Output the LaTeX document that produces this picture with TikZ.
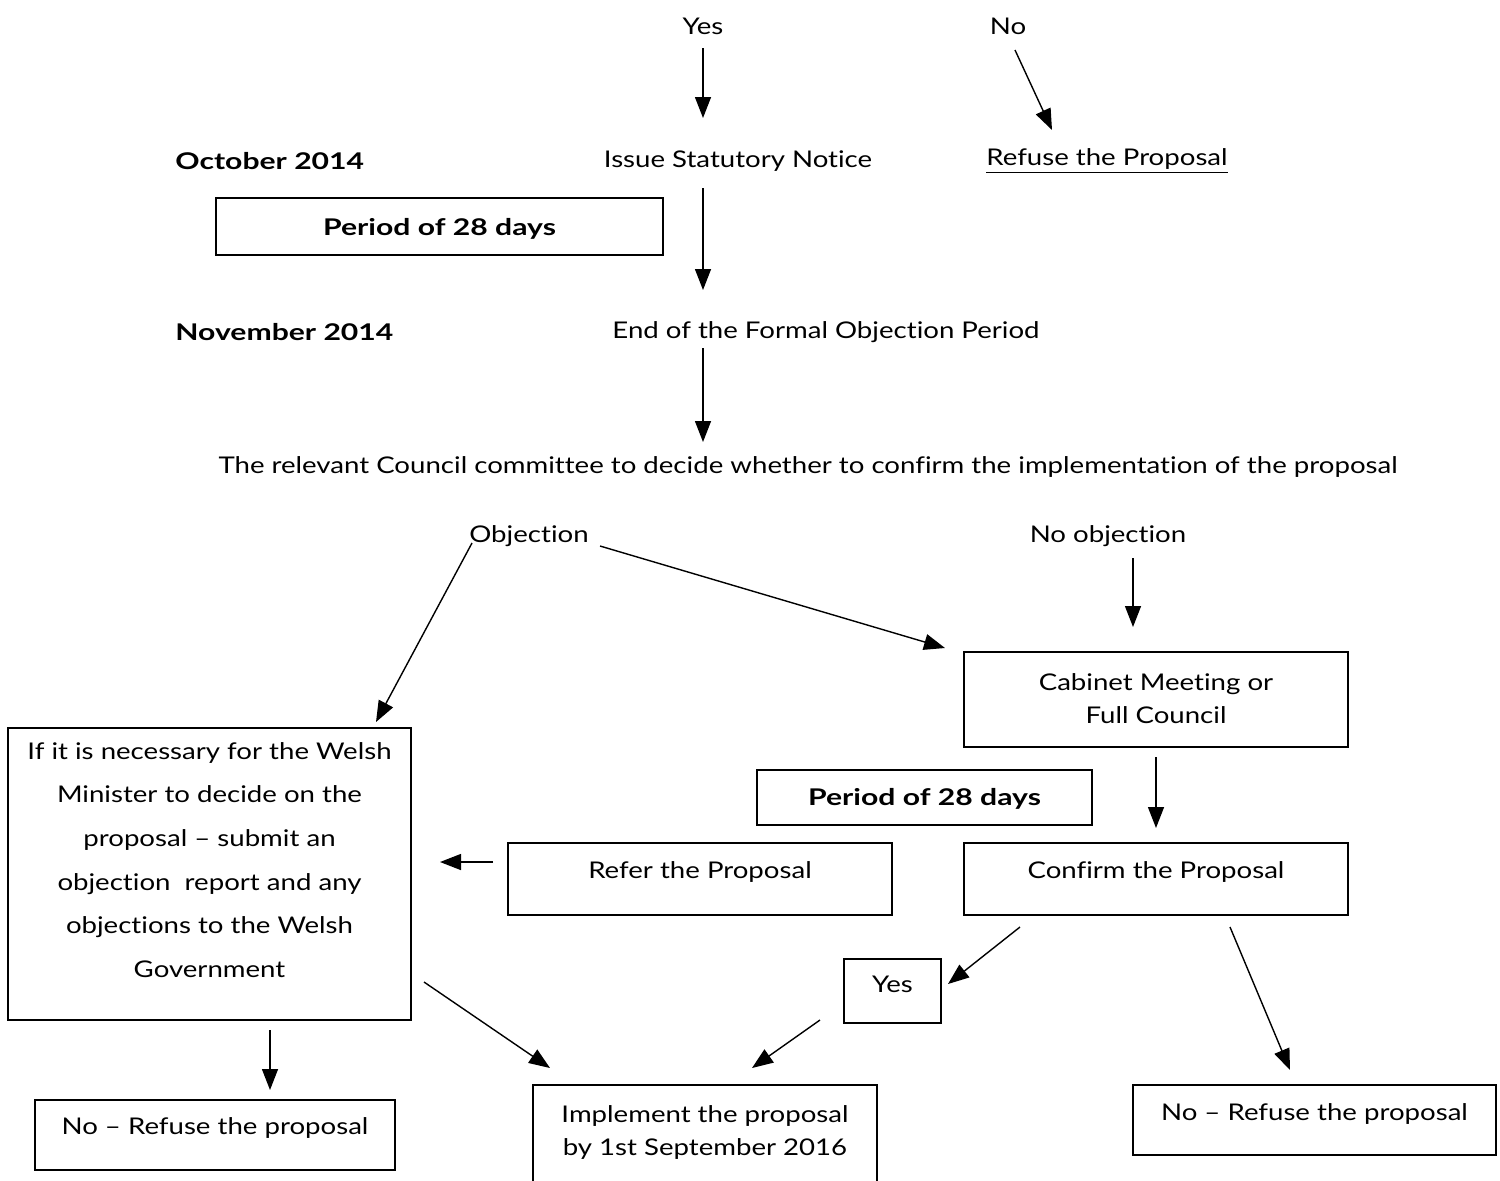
\documentclass[tikz,border=0pt]{standalone}
\usepackage{fontspec}
\setmainfont{Lato}[FakeStretch=1.2, Ligatures={TeX,NoCommon}]
\newfontfamily\bfam{Lato Bold}[FakeStretch=1.31, Ligatures={TeX,NoCommon}]
\usetikzlibrary{arrows.meta}
\begin{document}
\begin{tikzpicture}[x=0.5pt,y=-0.5pt,
  txt/.style={inner sep=0pt, font=\fontsize{11.5}{16.5}\selectfont, align=center},
  btxt/.style={inner sep=0pt, font=\fontsize{11.5}{16.5}\bfam\selectfont, align=center},
  wtxt/.style={inner sep=0pt, font=\fontsize{11.5}{21.8}\selectfont, align=center},
  bx/.style={draw, line width=0.9pt, inner sep=0pt},
  arr/.style={line width=0.7pt, -{Triangle[length=10.5pt,width=8pt]}}]
\useasboundingbox (0,0) rectangle (1500,1180);
\begin{scope}
\clip (0,0) rectangle (1500,1180);
% top part
\node[txt] (yes) at (703,26) {Yes};
\node[txt] (no) at (1008,26) {No};
\node[btxt, anchor=west] (oct) at (175,161) {October 2014};
\node[txt] (issue) at (738,161) {Issue Statutory Notice};
\node[txt] (refuse) at (1107,161) {\underline{Refuse the Proposal}};
\node[bx, minimum width=223.5pt, minimum height=28.5pt] (per1) at (439.5,226.5) {};
\node[btxt] at (439.5,229) {Period of 28 days};
\node[btxt, anchor=west] (nov) at (175,332) {November 2014};
\node[txt] (endp) at (826,332) {End of the Formal Objection Period};
\node[txt] (rel) at (808,467) {The relevant Council committee to decide whether to confirm the implementation of the proposal};
\node[txt] (obj) at (529,536) {Objection};
\node[txt] (noobj) at (1108,536) {No objection};
% boxes
\node[bx, minimum width=192pt, minimum height=47.5pt] (cab) at (1156,699.5) {};
\node[txt] at (1156,699) {Cabinet Meeting or\\Full Council};
\node[bx, minimum width=167.5pt, minimum height=27.5pt] (per2) at (924.5,797.5) {};
\node[btxt] at (924.5,799) {Period of 28 days};
\node[bx, minimum width=192pt, minimum height=36pt] (conf) at (1156,879) {};
\node[txt] at (1156,872) {Confirm the Proposal};
\node[bx, minimum width=192pt, minimum height=36pt] (refer) at (700,879) {};
\node[txt] at (700,872) {Refer the Proposal};
\node[bx, minimum width=201.5pt, minimum height=146pt] (welsh) at (209.5,874) {};
\node[wtxt] at (209.5,860) {If it is necessary for the Welsh\\Minister to decide on the\\proposal \textendash{} submit an\\objection\ \ report and any\\objections to the Welsh\\Government};
\node[bx, minimum width=48.5pt, minimum height=32pt] (yes2) at (892.5,991) {};
\node[txt] at (892.5,984) {Yes};
\node[bx, minimum width=172pt, minimum height=52.5pt] (impl) at (705,1137.5) {};
\node[txt] at (705,1132) {Implement the proposal\\by 1st September 2016};
\node[bx, minimum width=180pt, minimum height=35pt] (nol) at (215,1135) {};
\node[txt] at (215,1128) {No \textendash{} Refuse the proposal};
\node[bx, minimum width=181.5pt, minimum height=35pt] (nor) at (1314.5,1120) {};
\node[txt] at (1314.5,1114) {No \textendash{} Refuse the proposal};
% arrows
\draw[arr] ([shift={(0,22)}]yes.center) -- ([shift={(-35,-43)}]issue.center);
\draw[arr] ([shift={(7,24)}]no.center) -- ([shift={(-55,-31)}]refuse.center);
\draw[arr] ([shift={(-35,27)}]issue.center) -- ([shift={(-123,-42)}]endp.center);
\draw[arr] ([shift={(-123,16)}]endp.center) -- ([shift={(-105,-25)}]rel.center);
\draw[arr] ([shift={(71,10)}]obj.center) -- ([shift={(-211,-51.5)}]cab.center);
\draw[arr] ([shift={(-57,7)}]obj.center) -- ([shift={(166.5,-152)}]welsh.center);
\draw[arr] ([shift={(25,22)}]noobj.center) -- ([shift={(-23,-72.5)}]cab.center);
\draw[arr] ([shift={(0,57.5)}]cab.center) -- ([shift={(0,-51)}]conf.center);
\draw[arr] ([shift={(-207,-17)}]refer.center) -- ([shift={(230.5,-12)}]welsh.center);
\draw[arr] ([shift={(-136,48)}]conf.center) -- ([shift={(55.5,-7)}]yes2.center);
\draw[arr] ([shift={(-72.5,29)}]yes2.center) -- ([shift={(47,-69.5)}]impl.center);
\draw[arr] ([shift={(214.5,108)}]welsh.center) -- ([shift={(-155,-69.5)}]impl.center);
\draw[arr] ([shift={(74,48)}]conf.center) -- ([shift={(-24.5,-50)}]nor.center);
\draw[arr] ([shift={(60.5,156)}]welsh.center) -- ([shift={(55,-45)}]nol.center);
\end{scope}
\end{tikzpicture}
\end{document}
